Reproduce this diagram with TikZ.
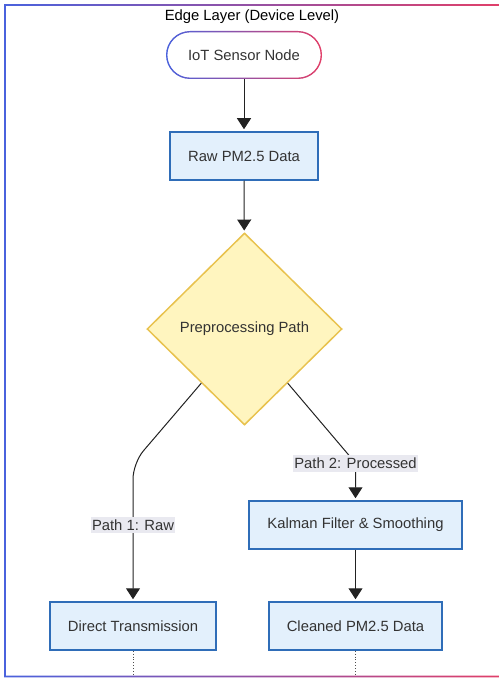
\documentclass[tikz,border=0pt]{standalone}
\usepackage{fontspec}
\setmainfont{Liberation Sans}
\usetikzlibrary{shapes.geometric,arrows.meta,calc}
\definecolor{boxfill}{HTML}{E3F0FC}
\definecolor{boxline}{HTML}{2F6DB8}
\definecolor{diafill}{HTML}{FFF5BF}
\definecolor{dialine}{HTML}{E8C24E}
\definecolor{lblfill}{HTML}{E9E9F0}
\definecolor{txtgray}{HTML}{333333}
\definecolor{gblue}{HTML}{4A62DD}
\definecolor{gred}{HTML}{E23F68}
\definecolor{arrowc}{HTML}{222222}
\begin{document}
\begin{tikzpicture}[x=1pt,y=-1pt,
  font=\fontsize{14.8}{17}\selectfont,
  pbox/.style={draw=boxline, fill=boxfill, line width=1.5pt, minimum height=48pt, text=txtgray, inner sep=0pt},
  lbl/.style={fill=lblfill, text=txtgray, inner xsep=1pt, inner ysep=3pt},
  arr/.style={draw=arrowc, line width=1pt, shorten >=2pt, -{Triangle[width=14pt,length=11pt]}},
  dots/.style={draw=arrowc!80, line width=0.9pt, dotted}]
\useasboundingbox (0,0) rectangle (498,679);
% outer frame with gradient border
\shade[left color=gblue, right color=gred, even odd rule]
  (4.2,4.2) rectangle (506,677.3) (5.8,5.8) rectangle (504.4,675.7);
\node[text=black] (title) at (252,17) {Edge Layer (Device Level)};
% IoT sensor node (stadium with gradient border)
\node[fill=white, rounded corners=24pt, minimum width=156pt, minimum height=48pt, text=txtgray, inner sep=0pt] (iot) at (244,55) {IoT Sensor Node};
\shade[left color=gblue, right color=gred, even odd rule]
  [rounded corners=24pt] (166,31) rectangle (322,79)
  [rounded corners=22.6pt] (167.4,32.4) rectangle (320.6,77.6);
% boxes
\node[pbox, minimum width=148pt] (raw) at (244,156) {Raw PM2.5 Data};
\node[diamond, draw=dialine, fill=diafill, line width=1.5pt, minimum width=195pt, minimum height=192pt, inner sep=0pt, text=txtgray] (dia) at (244.5,329) {Preprocessing Path};
\node[pbox, minimum width=213pt] (kal) at (355.5,525) {Kalman Filter \& Smoothing};
\node[pbox, minimum width=166pt] (dt) at (133,626) {Direct Transmission};
\node[pbox, minimum width=173pt] (cl) at (355.5,626) {Cleaned PM2.5 Data};
% connectors
\draw[arr] (iot) -- (raw);
\draw[arr] (raw) -- (dia);
\coordinate (ls) at ($(dia.west)!0.56!(dia.south)$);
\coordinate (rs) at ($(dia.east)!0.56!(dia.south)$);
\coordinate (lc) at (133,463);
\coordinate (rc) at (355.5,463);
\draw[arr, rounded corners=16pt] (ls) -- (lc) -- (dt.north);
\draw[arr] (rs) -- (rc) -- (kal.north);
\node[lbl] (l1) at (133,525) {Path 1: Raw};
\node[lbl] (l2) at (355.5,463.5) {Path 2: Processed};
\draw[arr] (kal) -- (cl);
\coordinate (db1) at (133,676);
\coordinate (db2) at (355.5,676);
\draw[dots] (dt.south) -- (db1);
\draw[dots] (cl.south) -- (db2);
\end{tikzpicture}
\end{document}
